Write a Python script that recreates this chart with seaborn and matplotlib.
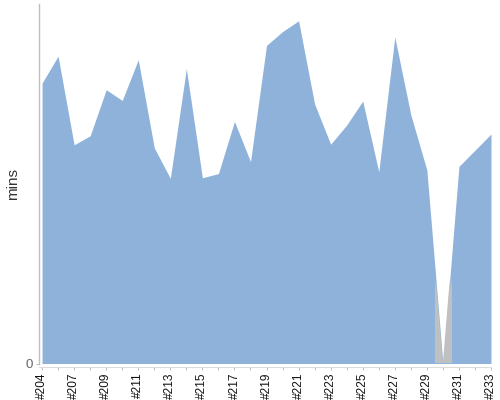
import numpy as np
import pandas as pd
import matplotlib
matplotlib.use("Agg")
import matplotlib.pyplot as plt
import seaborn as sns

builds = ["#204", "#205", "#207", "#208", "#209", "#210", "#211", "#212", "#213", "#214",
          "#215", "#216", "#217", "#218", "#219", "#220", "#221", "#222", "#223", "#224",
          "#225", "#226", "#227", "#228", "#229", "#230", "#231", "#232", "#233"]
minutes = [46.8, 51.3, 36.5, 38.0, 45.7, 43.9, 50.7, 36.0, 30.9, 49.2,
           31.0, 31.7, 40.4, 33.7, 53.1, 55.4, 57.2, 43.3, 36.6, 39.8,
           43.8, 32.0, 54.5, 41.5, 32.3, 0.0, 32.9, 35.6, 38.3]
missing_builds = ["#230"]
missing_height = [14.5]

df = pd.DataFrame({"build": builds, "mins": minutes})
df["pos"] = np.arange(len(df))

sns.set_theme(style="white")
plt.rcParams['font.family'] = ['Liberation Sans', 'DejaVu Sans']

fig = plt.figure(figsize=(5, 4), dpi=100)
ax = fig.add_axes([39/500, 1 - 363.5/400, (491 - 39)/500, (363.5 - 4)/400])

blue = "#8fb2da"
gray = "#c0c0c0"

sns.lineplot(data=df, x="pos", y="mins", ax=ax, color=blue, linewidth=0, zorder=2)
area = ax.fill_between(df["pos"], 0, df["mins"], color=blue, linewidth=0, zorder=2)
clip_path = area.get_paths()[0]

# missing-data band with vertical fade, clipped to the area
for b, h in zip(missing_builds, missing_height):
    p = builds.index(b)
    n = 64
    grad = np.ones((n, 1, 4))
    grad[..., :3] = 0.753
    alpha = np.ones(n)
    fade = int(n * 0.15)
    alpha[:fade] = np.linspace(0, 1, fade)
    grad[:, 0, 3] = alpha
    im = ax.imshow(grad, extent=[p - 0.5, p + 0.5, 0, h], aspect="auto", zorder=3,
                   interpolation="bilinear")
    im.set_clip_path(clip_path, ax.transData)

ax.set_xlim(-0.19, len(builds) - 1)
ax.set_ylim(0, 60)

ax.set_yticks([0])
ax.set_yticklabels(["0"])
ax.set_xticks(df["pos"])
labels = [b if i % 2 == 0 else "" for i, b in enumerate(builds)]
ax.set_xticklabels(labels)

ax.set_xlabel("")
ax.set_ylabel("mins", fontsize=11, color="#333333", labelpad=4)

for s in ["top", "right"]:
    ax.spines[s].set_visible(False)
ax.spines["left"].set_color(gray)
ax.spines["bottom"].set_color("#dddddd")
ax.spines["bottom"].set_position(("outward", 2.5))
ax.spines["left"].set_linewidth(1)
ax.spines["bottom"].set_linewidth(0.8)

ax.tick_params(axis="x", which="major", length=2.2, width=0.7, color="#bbbbbb",
               pad=1.5, bottom=True, labelrotation=90, labelsize=8.6,
               labelcolor="#111111")
ax.tick_params(axis="y", which="major", length=2.2, width=0.7, color=gray,
               pad=2, left=True, labelsize=9.5, labelcolor="#666666")
ax.grid(False)

fig.savefig("out.png", dpi=100)
